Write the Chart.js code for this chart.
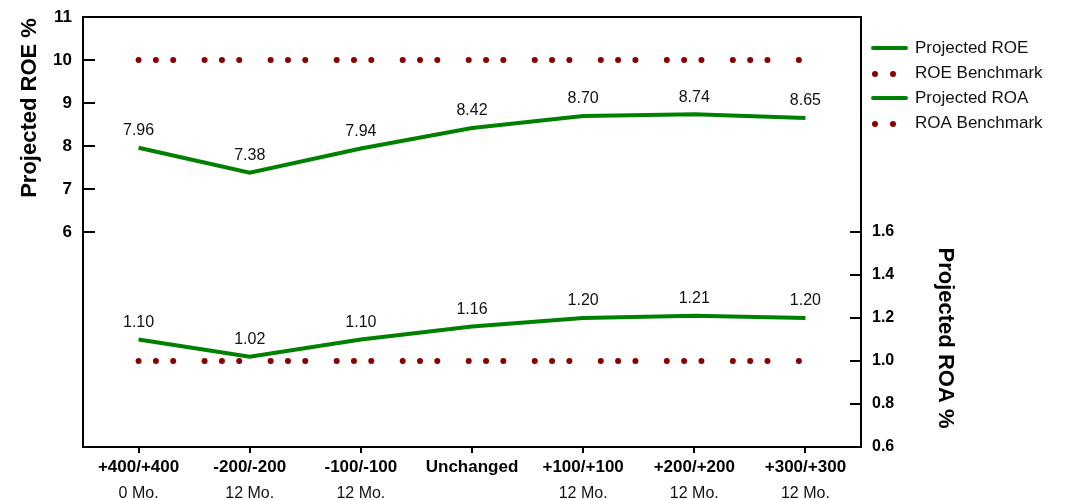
<!DOCTYPE html>
<html>
<head>
<meta charset="utf-8">
<script src="https://cdn.jsdelivr.net/npm/chart.js@4/dist/chart.umd.min.js"></script>
<style>
  html, body { margin: 0; padding: 0; background: #fff; }
  #wrap { width: 1072px; height: 500px; position: relative; }
</style>
</head>
<body>
<div id="wrap"><canvas id="chart"></canvas></div>
<script>
// chart values
const scenarios = ["+400/+400", "-200/-200", "-100/-100", "Unchanged", "+100/+100", "+200/+200", "+300/+300"];
const horizons = ["0 Mo.", "12 Mo.", "12 Mo.", "", "12 Mo.", "12 Mo.", "12 Mo."];
const projectedROE = [7.96, 7.38, 7.94, 8.42, 8.70, 8.74, 8.65];
const roeBenchmark = [10, 10, 10, 10, 10, 10, 10];
const projectedROA = [1.10, 1.02, 1.10, 1.16, 1.20, 1.21, 1.20];
const roaBenchmark = [1.0, 1.0, 1.0, 1.0, 1.0, 1.0, 1.0];
const seriesNames = ["Projected ROE", "ROE Benchmark", "Projected ROA", "ROA Benchmark"];

const FONT = "Arial, 'Liberation Sans', sans-serif";
const GREEN = "#008000";
const DARKRED = "#8b0000";
const dotDash = [0.01, 17.3, 0.01, 17.3, 0.01, 31.4];

// frame, inner tick marks, axis titles
const framePlugin = {
    id: "frame",
    afterDraw(chart) {
        const ctx = chart.ctx;
        const a = chart.chartArea;
        ctx.save();
        ctx.strokeStyle = "#000";
        ctx.lineWidth = 2;
        ctx.strokeRect(a.left, a.top, a.right - a.left, a.bottom - a.top);

        const yl = chart.scales.y;
        yl.ticks.forEach(t => {
            if (t.value < 6) return;
            const py = yl.getPixelForValue(t.value);
            ctx.beginPath();
            ctx.moveTo(a.left, py);
            ctx.lineTo(a.left + 12, py);
            ctx.stroke();
        });
        const yr = chart.scales.y1;
        yr.ticks.forEach(t => {
            if (t.value > 1.61) return;
            const py = yr.getPixelForValue(t.value);
            ctx.beginPath();
            ctx.moveTo(a.right - 11, py);
            ctx.lineTo(a.right, py);
            ctx.stroke();
        });

        ctx.fillStyle = "#000";
        ctx.font = "bold 22px " + FONT;
        ctx.textAlign = "center";
        ctx.textBaseline = "middle";
        ctx.save();
        ctx.translate(30, 108);
        ctx.rotate(-Math.PI / 2);
        ctx.fillText("Projected ROE %", 0, 0);
        ctx.restore();
        ctx.save();
        ctx.translate(945, 338);
        ctx.rotate(Math.PI / 2);
        ctx.fillText("Projected ROA %", 0, 0);
        ctx.restore();
        ctx.restore();
    }
};

// value labels above the two projected lines
const valueLabels = {
    id: "valueLabels",
    afterDatasetsDraw(chart) {
        const ctx = chart.ctx;
        ctx.save();
        ctx.font = "16px " + FONT;
        ctx.fillStyle = "#111";
        ctx.textAlign = "center";
        ctx.textBaseline = "middle";
        [0, 2].forEach(i => {
            const meta = chart.getDatasetMeta(i);
            meta.data.forEach((pt, j) => {
                const v = chart.data.datasets[i].data[j];
                ctx.fillText(v.toFixed(2), pt.x, pt.y - 17);
            });
        });
        ctx.restore();
    }
};

// legend on the right
const sideLegend = {
    id: "sideLegend",
    afterDraw(chart) {
        const ctx = chart.ctx;
        ctx.save();
        const rows = [48, 73, 98, 123];
        chart.data.datasets.forEach((ds, i) => {
            const y = rows[i];
            if (ds.borderDash && ds.borderDash.length) {
                ctx.fillStyle = ds.borderColor;
                [875, 893].forEach(x => {
                    ctx.beginPath();
                    ctx.arc(x, y + 1, 3, 0, Math.PI * 2);
                    ctx.fill();
                });
            } else {
                ctx.strokeStyle = ds.borderColor;
                ctx.lineWidth = 4;
                ctx.lineCap = "round";
                ctx.beginPath();
                ctx.moveTo(873, y);
                ctx.lineTo(906, y);
                ctx.stroke();
            }
            ctx.fillStyle = "#111";
            ctx.font = "17px " + FONT;
            ctx.textAlign = "left";
            ctx.textBaseline = "middle";
            ctx.fillText(ds.label, 915, y);
        });
        ctx.restore();
    }
};

new Chart(document.getElementById("chart"), {
    type: "line",
    data: {
        labels: scenarios,
        datasets: [
            { label: seriesNames[0], data: projectedROE, yAxisID: "y", borderColor: GREEN, borderWidth: 4, pointRadius: 0, tension: 0 },
            { label: seriesNames[1], data: roeBenchmark, yAxisID: "y", borderColor: DARKRED, borderWidth: 6, borderDash: dotDash, borderCapStyle: "round", pointRadius: 0 },
            { label: seriesNames[2], data: projectedROA, yAxisID: "y1", borderColor: GREEN, borderWidth: 4, pointRadius: 0, tension: 0 },
            { label: seriesNames[3], data: roaBenchmark, yAxisID: "y1", borderColor: DARKRED, borderWidth: 6, borderDash: dotDash, borderCapStyle: "round", pointRadius: 0 }
        ]
    },
    options: {
        responsive: true,
        maintainAspectRatio: false,
        animation: false,
        layout: { padding: { top: 17, left: 0, right: 0, bottom: 0 } },
        plugins: {
            legend: { display: false },
            tooltip: { enabled: false }
        },
        scales: {
            x: {
                type: "category",
                position: "bottom",
                offset: true,
                border: { display: false },
                grid: { display: true, drawOnChartArea: false, drawTicks: true, tickLength: 6, color: "#000", lineWidth: 2, offset: false },
                ticks: { color: "#000", font: { family: FONT, size: 17, weight: "bold" }, padding: 4, maxRotation: 0, autoSkip: false },
                afterFit(s) { s.height = 28; }
            },
            x2: {
                type: "category",
                position: "bottom",
                labels: horizons,
                offset: true,
                border: { display: false },
                grid: { display: false, drawTicks: false },
                ticks: { color: "#111", font: { family: FONT, size: 16 }, padding: 9, maxRotation: 0, autoSkip: false },
                afterFit(s) { s.height = 25; }
            },
            y: {
                position: "left",
                min: 1,
                max: 11,
                border: { display: false },
                grid: { display: false, drawTicks: false },
                ticks: {
                    stepSize: 1,
                    color: "#000",
                    font: { family: FONT, size: 17, weight: "bold" },
                    padding: 11,
                    callback: v => (v >= 6 ? v : "")
                },
                afterFit(s) { s.width = 83; s.paddingTop = 0; s.paddingBottom = 0; }
            },
            y1: {
                position: "right",
                min: 0.6,
                max: 2.6,
                border: { display: false },
                grid: { display: false, drawTicks: false },
                ticks: {
                    stepSize: 0.2,
                    color: "#000",
                    font: { family: FONT, size: 16, weight: "bold" },
                    padding: 11,
                    callback: v => (v <= 1.61 ? v.toFixed(1) : "")
                },
                afterFit(s) { s.width = 211; s.paddingTop = 0; s.paddingBottom = 0; }
            }
        }
    },
    plugins: [framePlugin, valueLabels, sideLegend]
});
</script>
</body>
</html>
